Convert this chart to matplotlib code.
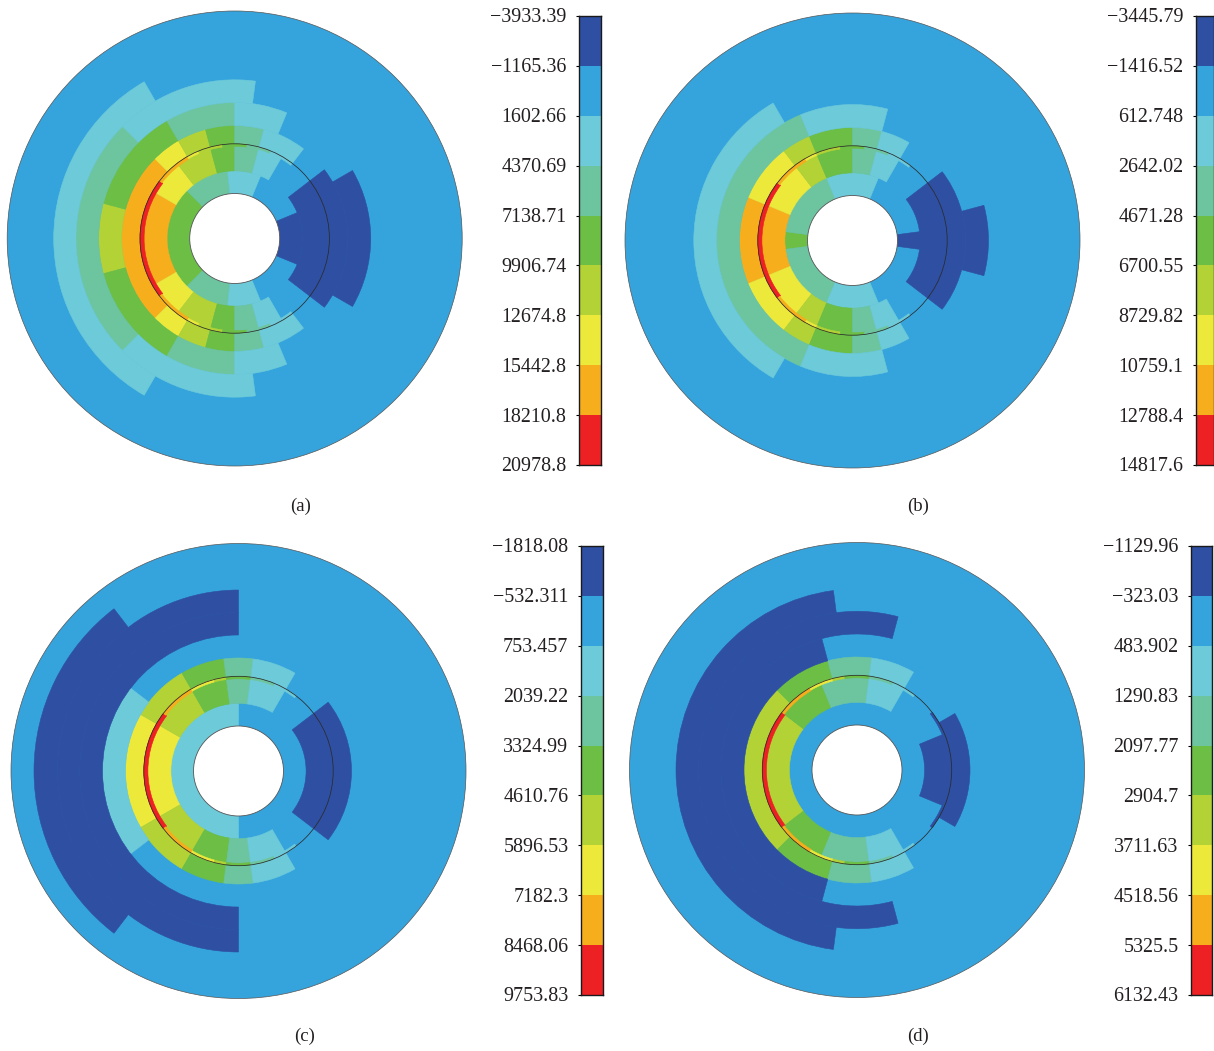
import matplotlib
matplotlib.use('Agg')
import matplotlib.pyplot as plt
from matplotlib.patches import Wedge, Circle

W = 1214
H = 1051
plt.rcParams['font.family'] = ['Liberation Serif', 'DejaVu Serif']

# contour levels, dark blue -> red
colors = ['#2E4FA2', '#35A4DD', '#6DCAD9', '#6DC5A0', '#6CBE45',
          '#B2D235', '#EDE93B', '#F6AE1D', '#ED2024']
DK, BL, CY, TE, GR, LI, YE, OR, RE = range(9)

# ring radii (same in all four plots)
radii = [45, 67.6, 94.7, 113, 136, 158.7, 181, 204.5]
outer_r = 227.5

# (ring, from angle, to angle, level), upper half only, lower half is mirrored
sectors_a = [
    (0, 135, 180, GR), (0, 96, 135, TE), (0, 67.5, 96, CY), (0, 0, 22.5, DK),
    (1, 150, 180, OR), (1, 127.5, 150, YE), (1, 105, 127.5, LI), (1, 90, 105, GR),
    (1, 75, 90, TE), (1, 60, 75, CY), (1, 0, 37.5, DK),
    (2, 135, 180, OR), (2, 120, 135, YE), (2, 105, 120, LI), (2, 90, 105, GR),
    (2, 75, 90, TE), (2, 52.5, 75, CY), (2, 0, 37.5, DK),
    (3, 165, 180, LI), (3, 120, 165, GR), (3, 90, 120, TE), (3, 67.5, 90, CY), (3, 0, 30, DK),
    (4, 135, 180, TE), (4, 82.5, 135, CY),
    (5, 120, 180, CY),
]
sectors_b = [
    (0, 172.5, 180, GR), (0, 112.5, 172.5, TE), (0, 67.5, 112.5, CY), (0, 0, 7.5, DK),
    (1, 157.5, 180, OR), (1, 127.5, 157.5, YE), (1, 112.5, 127.5, LI), (1, 90, 112.5, GR),
    (1, 75, 90, TE), (1, 60, 75, CY), (1, 0, 37.5, DK),
    (2, 157.5, 180, OR), (2, 127.5, 157.5, YE), (2, 112.5, 127.5, LI), (2, 90, 112.5, GR),
    (2, 75, 90, TE), (2, 60, 75, CY), (2, 0, 37.5, DK),
    (3, 112.5, 180, TE), (3, 75, 112.5, CY), (3, 0, 15, DK),
    (4, 120, 180, CY),
]
sectors_c = [
    (0, 90, 180, CY),
    (1, 150, 180, YE), (1, 120, 150, LI), (1, 97.5, 120, GR), (1, 82.5, 97.5, TE),
    (1, 60, 82.5, CY), (1, 0, 37.5, DK),
    (2, 150, 180, YE), (2, 120, 150, LI), (2, 97.5, 120, GR), (2, 82.5, 97.5, TE),
    (2, 60, 82.5, CY), (2, 0, 37.5, DK),
    (3, 142.5, 180, CY),
    (4, 90, 180, DK), (5, 90, 180, DK),
    (6, 127.5, 180, DK),
]
sectors_d = [
    (1, 142.5, 180, LI), (1, 112.5, 142.5, GR), (1, 82.5, 112.5, TE), (1, 60, 82.5, CY),
    (1, 0, 22.5, DK),
    (2, 135, 180, LI), (2, 105, 135, GR), (2, 82.5, 105, TE), (2, 60, 82.5, CY),
    (2, 0, 30, DK),
    (3, 105, 180, DK),
    (4, 75, 180, DK),
    (5, 97.5, 180, DK),
]

# thin band just inside the black ring
thin_ab = [(142.5, 180, RE), (120, 142.5, OR), (112.5, 120, YE), (97.5, 112.5, LI),
           (82.5, 97.5, GR), (67.5, 82.5, TE), (52.5, 67.5, CY)]
thin_c = [(142.5, 180, RE), (120, 142.5, OR), (105, 120, YE), (97.5, 105, LI),
          (82.5, 97.5, GR), (67.5, 82.5, TE), (52.5, 67.5, CY)]
thin_d = thin_c + [(22.5, 37.5, DK)]
# band is wider for the hottest levels
thin_inner = {RE: 90.6, OR: 91.6}
thin_inner_other = 92.2

labels_a = ['\u22123933.39', '\u22121165.36', '1602.66', '4370.69', '7138.71',
            '9906.74', '12674.8', '15442.8', '18210.8', '20978.8']
labels_b = ['\u22123445.79', '\u22121416.52', '612.748', '2642.02', '4671.28',
            '6700.55', '8729.82', '10759.1', '12788.4', '14817.6']
labels_c = ['\u22121818.08', '\u2212532.311', '753.457', '2039.22', '3324.99',
            '4610.76', '5896.53', '7182.3', '8468.06', '9753.83']
labels_d = ['\u22121129.96', '\u2212323.03', '483.902', '1290.83', '2097.77',
            '2904.7', '3711.63', '4518.56', '5325.5', '6132.43']


def pixel_axes(fig, x0, y0, x1, y1):
    return fig.add_axes([x0 / W, 1 - y1 / H, (x1 - x0) / W, (y1 - y0) / H])


def sector(ax, r0, r1, t0, t1, level):
    # upper half and its mirror image, joined when it touches the axis
    if t1 == 180:
        spans = [(t0, 360 - t0)]
    elif t0 == 0:
        spans = [(-t1, t1)]
    else:
        spans = [(t0, t1), (-t1, -t0)]
    for a, b in spans:
        ax.add_patch(Wedge((0, 0), r1, a, b, width=r1 - r0, facecolor=colors[level],
                           edgecolor=colors[level], linewidth=0.4))


def draw_disc(fig, cx, cy, sectors, thin):
    ax = pixel_axes(fig, cx - 240, cy - 240, cx + 240, cy + 240)
    ax.set_xlim(-240, 240)
    ax.set_ylim(-240, 240)
    ax.axis('off')
    ax.add_patch(Circle((0, 0), outer_r, facecolor=colors[BL], edgecolor='#555555', linewidth=0.5))
    for ring, t0, t1, level in sectors:
        sector(ax, radii[ring], radii[ring + 1], t0, t1, level)
    for t0, t1, level in thin:
        sector(ax, thin_inner.get(level, thin_inner_other), radii[2], t0, t1, level)
    ax.add_patch(Circle((0, 0), radii[2], fill=False, edgecolor='#2a2a2a', linewidth=0.55))
    ax.add_patch(Circle((0, 0), radii[0], facecolor='white', edgecolor='#555555', linewidth=0.6))


def draw_bar(fig, x0, x1, y0, y1, labels):
    ax = pixel_axes(fig, x0, y0, x1, y1)
    ax.bar([0] * 9, [1] * 9, bottom=list(range(9)), width=1, color=colors)
    ax.set_xlim(-0.5, 0.5)
    ax.set_ylim(9, 0)
    ax.set_xticks([])
    ax.set_yticks(range(10))
    ax.set_yticklabels([])
    ax.tick_params(axis='y', length=2.4, width=0.8)
    for s in ax.spines.values():
        s.set_linewidth(1.0)
        s.set_color('#1a1a1a')
    for i, s in enumerate(labels):
        ax.annotate(s, (0, i), xycoords=('axes fraction', 'data'), xytext=(-9, 0.4),
                    textcoords='offset points', ha='right', va='center_baseline',
                    fontsize=14.4, color='#231f20')


fig = plt.figure(figsize=(W / 100, H / 100), dpi=100)

draw_disc(fig, 234.7, 238.5, sectors_a, thin_ab)
draw_disc(fig, 852.5, 240.5, sectors_b, thin_ab)
draw_disc(fig, 238.5, 771, sectors_c, thin_c)
draw_disc(fig, 857, 770, sectors_d, thin_d)

draw_bar(fig, 579, 601, 16, 465, labels_a)
draw_bar(fig, 1196, 1214, 16, 465, labels_b)
draw_bar(fig, 581, 603, 546, 995, labels_c)
draw_bar(fig, 1191, 1212, 546, 995, labels_d)

for x, y, s in [(301, 506, '(a)'), (918, 506, '(b)'), (305, 1036, '(c)'), (918, 1036, '(d)')]:
    fig.text(x / W, 1 - y / H, s, fontsize=13.5, color='#231f20', ha='center', va='center')

fig.savefig('out.png', dpi=100)
